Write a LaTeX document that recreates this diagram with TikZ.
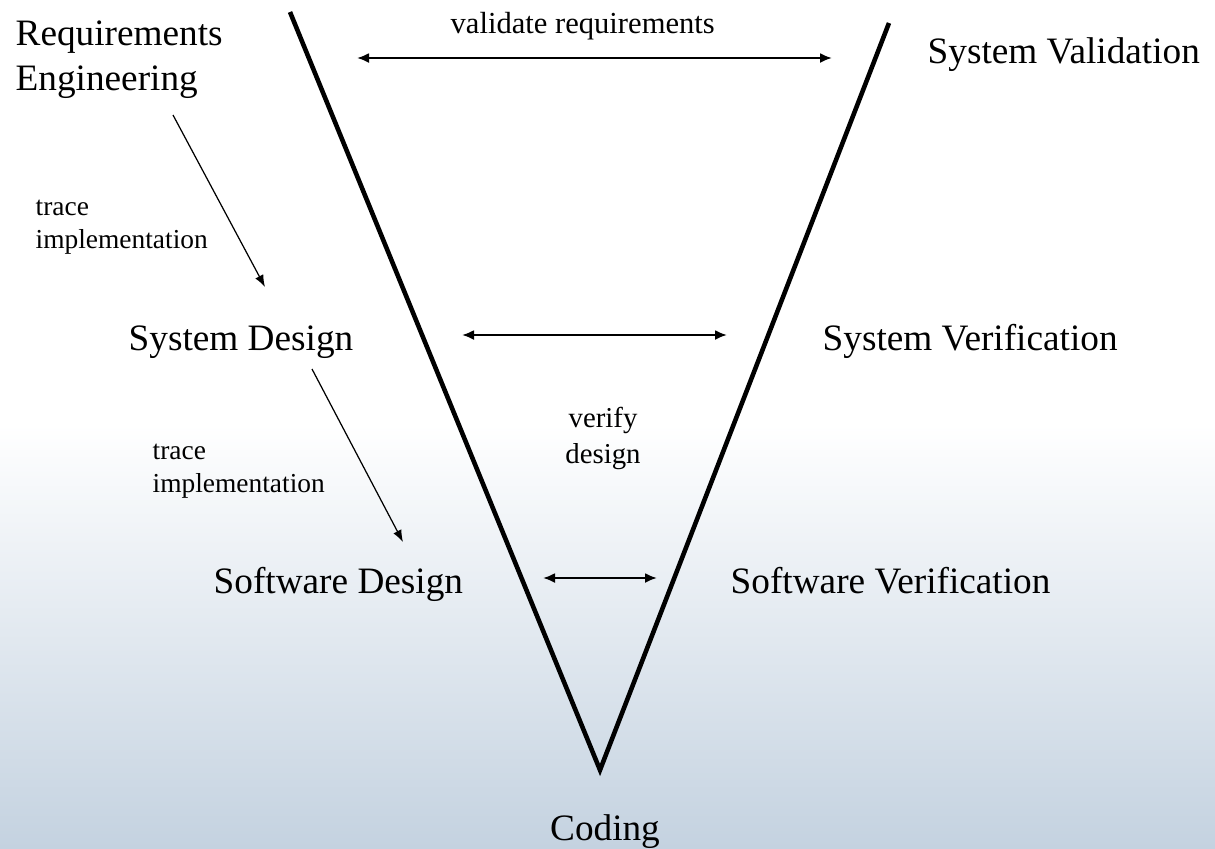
\documentclass[tikz,border=0pt]{standalone}
\usepackage{fontspec}
\setmainfont{Liberation Serif}
\usetikzlibrary{arrows.meta}
\begin{document}
\begin{tikzpicture}[
    phase/.style={inner sep=0pt, font=\fontsize{10.6}{12.8}\selectfont},
    note/.style={inner sep=0pt, font=\fontsize{7.8}{9.2}\selectfont},
    vline/.style={line width=1.3pt, line join=miter},
    link/.style={line width=0.6pt, {Latex[length=1.2mm,width=1mm]}-{Latex[length=1.2mm,width=1mm]}},
    trace/.style={line width=0.35pt, -{Latex[length=1.2mm,width=0.9mm]}}
]
% Hintergrund
\useasboundingbox (0,0) rectangle (12.15,-8.48);
\shade[top color=white, bottom color={rgb,255:red,196;green,210;blue,224}, middle color=white] (0,0) rectangle (12.15,-8.48);

% V
\coordinate (vtl) at (2.90,-0.12);
\coordinate (vtr) at (8.89,-0.23);
\coordinate (vbot) at (6.00,-7.70);
\draw[vline] (vtl) -- (vbot) -- (vtr);

% Phasen
\node[phase, anchor=base west, align=left] (req) at (0.15,-0.90) {Requirements\\Engineering};
\node[phase, anchor=base west] (sysval) at (9.27,-0.63) {System Validation};
\node[phase, anchor=base west] (sysdes) at (1.28,-3.50) {System Design};
\node[phase, anchor=base west] (sysver) at (8.22,-3.50) {System Verification};
\node[phase, anchor=base west] (swdes) at (2.13,-5.93) {Software Design};
\node[phase, anchor=base west] (swver) at (7.30,-5.93) {Software Verification};
\node[phase, anchor=base] (coding) at (6.05,-8.40) {Coding};

% Texte
\node[note, font=\fontsize{8.7}{10}\selectfont, anchor=base west] (valtxt) at (4.50,-0.33) {validate requirements};
\node[note, anchor=base west, align=left] (tr1) at (0.35,-2.48) {trace\\implementation};
\node[note, anchor=base west, align=left] (tr2) at (1.52,-4.92) {trace\\implementation};
\node[note, font=\fontsize{8.2}{10}\selectfont, anchor=base, align=center] (vertxt) at (6.03,-4.63) {verify\\design};

% Pfeile
\coordinate (a1l) at (3.57,-0.58);
\coordinate (a1r) at (8.32,-0.58);
\coordinate (a2l) at (4.62,-3.35);
\coordinate (a2r) at (7.27,-3.35);
\coordinate (a3l) at (5.43,-5.78);
\coordinate (a3r) at (6.57,-5.78);
\draw[link] (a1l) -- (a1r);
\draw[link] (a2l) -- (a2r);
\draw[link] (a3l) -- (a3r);

\coordinate (t1s) at (1.73,-1.15);
\coordinate (t1e) at (2.65,-2.87);
\coordinate (t2s) at (3.12,-3.69);
\coordinate (t2e) at (4.03,-5.42);
\draw[trace] (t1s) -- (t1e);
\draw[trace] (t2s) -- (t2e);
\end{tikzpicture}
\end{document}
